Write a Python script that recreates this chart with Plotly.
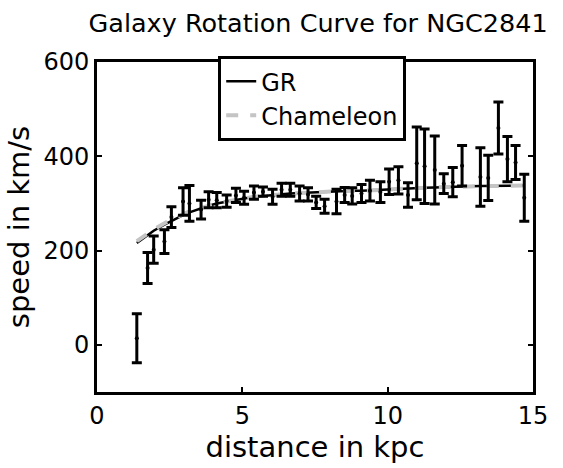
import plotly.graph_objects as go

# Observed data (distance kpc, speed km/s, error km/s)
dist = [1.37, 1.74, 1.95, 2.32, 2.56, 2.96, 3.18, 3.58, 3.84, 4.12, 4.46, 4.78,
        5.06, 5.40, 5.71, 6.04, 6.35, 6.65, 6.97, 7.26, 7.54, 7.83, 8.24, 8.52,
        8.78, 9.10, 9.39, 9.75, 10.05, 10.37, 10.70, 11.00, 11.27, 11.62, 11.93,
        12.24, 12.56, 13.19, 13.46, 13.81, 14.12, 14.40, 14.70]
speed = [14, 163, 202, 219, 271, 304, 300, 287, 308, 307, 305, 317,
         312, 323, 325, 314, 329, 329, 321, 319, 302, 294, 304, 318,
         316, 321, 327, 324, 346, 349, 318, 385, 379, 371, 342,
         345, 380, 356, 354, 460, 394, 387, 312]
err = [52, 33, 29, 25, 22, 29, 38, 20, 17, 16, 13, 15,
       14, 14, 10, 16, 14, 14, 16, 14, 13, 15, 26, 16,
       17, 19, 22, 22, 27, 29, 26, 77, 79, 72, 21,
       31, 43, 62, 48, 55, 48, 36, 50]

# Model curves
model_x = [1.37, 1.74, 1.95, 2.32, 2.56, 2.96, 3.18, 3.58, 3.84, 4.12, 4.46, 4.78,
           5.06, 5.40, 5.71, 6.04, 6.35, 6.65, 6.97, 7.26, 7.54, 7.83, 8.24, 8.52,
           8.78, 9.10, 9.39, 9.75, 10.05, 10.37, 10.70, 11.00, 11.27, 11.62, 11.93,
           12.24, 12.56, 13.19, 13.46, 13.81, 14.12, 14.40, 14.70]
gr = [216, 232, 242, 255, 263, 275, 281, 290, 295, 300, 304, 308,
      311, 314, 316, 318, 320, 321, 322, 323, 324, 325, 326, 326,
      327, 327, 328, 329, 330, 331, 332, 333, 333, 334, 335,
      335, 336, 337, 337, 337, 338, 338, 338]
cham = [220, 236, 245, 258, 266, 277, 283, 291, 296, 300, 304, 308,
        311, 314, 316, 318, 320, 321, 322, 323, 324, 325, 326, 326,
        327, 327, 328, 329, 330, 331, 332, 333, 333, 334, 335,
        335, 336, 337, 337, 337, 338, 338, 338]

FONT = "DejaVu Sans, Liberation Sans, sans-serif"

fig = go.Figure()
fig.add_trace(go.Scatter(x=model_x, y=gr, mode="lines", name="GR",
                         line=dict(color="black", width=2.5)))
fig.add_trace(go.Scatter(x=model_x, y=cham, mode="lines", name="Chameleon",
                         line=dict(color="#c4c4c4", width=4, dash="dash")))
fig.add_trace(go.Scatter(x=dist, y=speed, mode="markers", showlegend=False,
                         marker=dict(color="black", size=4),
                         error_y=dict(type="data", array=err, visible=True,
                                      color="black", thickness=3, width=5)))

fig.update_layout(
    width=563, height=468,
    margin=dict(l=97, r=30, t=62, b=70),
    paper_bgcolor="white", plot_bgcolor="white",
    font=dict(family=FONT, size=24, color="black"),
    title=dict(text="Galaxy Rotation Curve for NGC2841", x=0.565, xanchor="center",
               y=1 - 23 / 468, yanchor="middle", font=dict(size=25.5)),
    legend=dict(x=0.278, y=1.018, xanchor="left", yanchor="top",
                bgcolor="white", bordercolor="black", borderwidth=3,
                font=dict(size=24), tracegroupgap=0),
    showlegend=True,
)
fig.update_xaxes(range=[0, 15], tickvals=[0, 5, 10, 15], ticks="inside", ticklen=5,
                 tickwidth=2, tickcolor="black", showline=True, linewidth=3,
                 linecolor="black", mirror="ticks", showgrid=False, zeroline=False,
                 title=dict(text="distance in kpc", standoff=6))
fig.update_yaxes(range=[-100, 600], tickvals=[0, 200, 400, 600], ticks="inside",
                 ticklen=5, tickwidth=2, tickcolor="black", showline=True,
                 linewidth=3, linecolor="black", mirror="ticks", showgrid=False,
                 zeroline=False, title=dict(text="speed in km/s", standoff=6))

fig.write_html("out.html")
